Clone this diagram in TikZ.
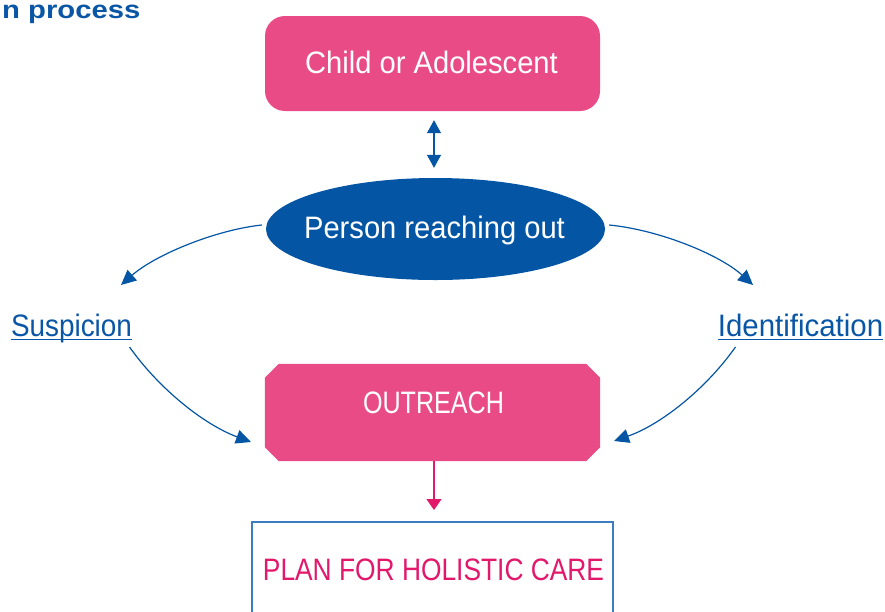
\documentclass[tikz,border=0pt]{standalone}
\usepackage{fontspec}
\setmainfont{Liberation Sans}
\usepackage{graphicx}
\usetikzlibrary{arrows.meta,shapes.geometric}
\definecolor{pinkfill}{HTML}{E94B87}
\definecolor{dblue}{HTML}{0455A4}
\definecolor{tblue}{HTML}{0A56A6}
\definecolor{pinkline}{HTML}{E2186A}
\definecolor{boxblue}{HTML}{3C7DC1}
\tikzset{
  txt/.style={inner sep=0pt, anchor=base, font=\fontsize{31}{31}\selectfont},
  bluearr/.style={draw=dblue, line width=1.2pt, -{Triangle[length=15pt,width=14pt]}},
  ulink/.style={draw=tblue, line width=1.2pt},
}
\begin{document}
\begin{tikzpicture}[x=1pt,y=-1pt]
\useasboundingbox (0,0) rectangle (885,611);
\clip (0,0) rectangle (885,611);

% title fragment
\node[inner sep=0pt, anchor=base west, text=tblue, font=\fontsize{25}{25}\selectfont\bfseries] (title) at (2,18.5) {\scalebox{1.17}[1]{n process}};

% shapes
\node[rectangle, rounded corners=20pt, fill=pinkfill, minimum width=335pt, minimum height=95pt, inner sep=0pt] (child) at (432.5,63.5) {};
\node[ellipse, fill=dblue, minimum width=339pt, minimum height=102pt, inner sep=0pt] (person) at (435.5,229) {};
\node[rectangle, minimum width=335pt, minimum height=97pt, inner sep=0pt] (outreach) at (432.5,412.5) {};
\fill[pinkfill] ([shift={(14,0)}]outreach.north west) -- ([shift={(-14,0)}]outreach.north east)
  -- ([shift={(0,14)}]outreach.north east) -- ([shift={(0,-14)}]outreach.south east)
  -- ([shift={(-14,0)}]outreach.south east) -- ([shift={(14,0)}]outreach.south west)
  -- ([shift={(0,-14)}]outreach.south west) -- ([shift={(0,14)}]outreach.north west) -- cycle;
\node[rectangle, draw=boxblue, line width=1.5pt, minimum width=361pt, minimum height=110pt, anchor=north, inner sep=0pt] (plan) at (432.5,521) {};

% texts
\node[txt, text=white] (childt) at (431.5,73) {\scalebox{0.94}[1]{Child or Adolescent}};
\node[txt, text=white] (persont) at (434.5,238) {\scalebox{0.94}[1]{Person reaching out}};
\node[txt, text=white] (outt) at (433.5,413) {\scalebox{0.81}[1]{OUTREACH}};
\node[txt, text=pinkline] (plant) at (433.5,580) {\scalebox{0.85}[1]{PLAN FOR HOLISTIC CARE}};
\node[txt, text=tblue] (susp) at (71.5,336) {\scalebox{0.9}[1]{Suspicion}};
\node[txt, text=tblue] (ident) at (800.5,336) {\scalebox{0.95}[1]{Identification}};
\draw[ulink] ([shift={(0,3.5)}]susp.base west) -- ([shift={(0,3.5)}]susp.base east);
\draw[ulink] ([shift={(0,3.5)}]ident.base west) -- ([shift={(0,3.5)}]ident.base east);

% connectors
\draw[draw=dblue, line width=1.2pt, {Triangle[length=13pt,width=14pt]}-{Triangle[length=13pt,width=14pt]}]
  ([shift={(1.5,9)}]child.south) -- ([shift={(-1.5,-10)}]person.north);

\coordinate (sIn) at (121,285);
\coordinate (iIn) at (753,285);
\coordinate (oL) at (251,442);
\coordinate (oR) at (614,441);

\draw[bluearr] ([shift={(-4,-4)}]person.west) .. controls (215,230) and (155,255) .. (sIn);
\draw[bluearr] ([shift={(4,-4)}]person.east) .. controls (660,230) and (720,255) .. (iIn);
\draw[bluearr] ([shift={(58,11)}]susp.base) .. controls (160,390) and (205,425) .. (oL);
\draw[bluearr] ([shift={(-65,11)}]ident.base) .. controls (705,390) and (660,425) .. (oR);

\draw[draw=pinkline, line width=1.2pt, -{Triangle[length=11pt,width=15pt]}]
  ([shift={(1.5,0)}]outreach.south) -- ([shift={(1.5,-11)}]plan.north);
\end{tikzpicture}
\end{document}
